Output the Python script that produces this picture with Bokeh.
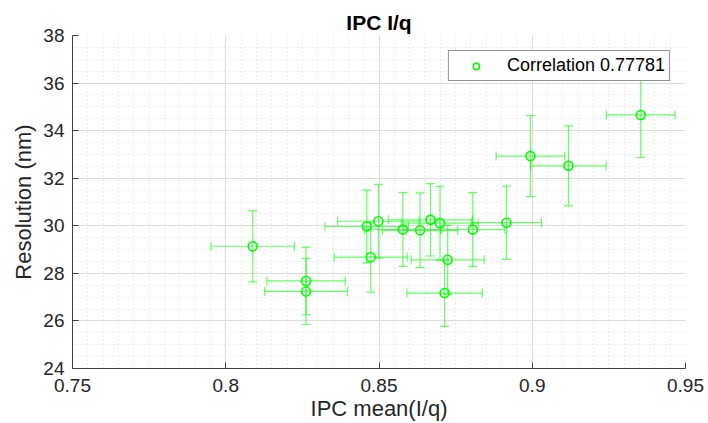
import numpy as np
from bokeh.plotting import figure
from bokeh.models import (ColumnDataSource, Whisker, TeeHead, FixedTicker, Range1d)
from bokeh.embed import file_html
from bokeh.resources import INLINE

# ---- data ----
ipc_mean = [0.8088, 0.8262, 0.8262, 0.8460, 0.8498, 0.8473, 0.8578, 0.8634, 0.8668,
            0.8699, 0.8724, 0.8714, 0.8806, 0.8916, 0.8994, 0.9118, 0.9354]
resolution = [29.14, 27.68, 27.24, 29.97, 30.19, 28.68, 29.84, 29.81, 30.25,
              30.11, 28.57, 27.17, 29.84, 30.13, 32.93, 32.52, 34.66]
ipc_err = [0.0136, 0.0128, 0.0135, 0.0136, 0.0133, 0.0119, 0.0125, 0.0123, 0.0138,
           0.0125, 0.0119, 0.0123, 0.0105, 0.0114, 0.0112, 0.0123, 0.0112]
res_err = [1.50, 1.42, 1.39, 1.53, 1.55, 1.47, 1.55, 1.57, 1.52,
           1.55, 1.45, 1.40, 1.55, 1.54, 1.70, 1.68, 1.79]

x_ticks = [0.75, 0.8, 0.85, 0.9, 0.95]
x_tick_labels = ["0.75", "0.8", "0.85", "0.9", "0.95"]
y_ticks = [24, 26, 28, 30, 32, 34, 36, 38]
y_tick_labels = ["24", "26", "28", "30", "32", "34", "36", "38"]
legend_text = "Correlation 0.77781"
title_text = "IPC I/q"
x_label = "IPC mean(I/q)"
y_label = "Resolution (nm)"

GREEN = "#00ff00"
TXT = "#262626"
FONT = "Liberation Sans"

x = np.array(ipc_mean)
y = np.array(resolution)
xe = np.array(ipc_err)
ye = np.array(res_err)

src = ColumnDataSource(dict(x=x, y=y,
                            xl=x - xe, xu=x + xe,
                            yl=y - ye, yu=y + ye))

p = figure(width=708, height=423, output_backend="svg", toolbar_location=None,
           x_range=Range1d(0.75, 0.95), y_range=Range1d(24, 38),
           min_border_left=72, min_border_right=23, min_border_top=35,
           min_border_bottom=54)
p.outline_line_color = None
p.background_fill_color = "white"
p.border_fill_color = "white"

p.title.text = title_text
p.title.align = "center"
p.title.text_font = FONT
p.title.text_font_size = "21px"
p.title.text_font_style = "bold"
p.title.text_color = "black"
p.title.standoff = 4

# ticks
p.xaxis.ticker = FixedTicker(ticks=x_ticks,
                             minor_ticks=list(np.round(np.arange(0.75, 0.9501, 0.005), 4)))
p.yaxis.ticker = FixedTicker(ticks=y_ticks,
                             minor_ticks=list(np.arange(24, 38.01, 0.5)))
p.xaxis.major_label_overrides = {t: l for t, l in zip(x_ticks, x_tick_labels)}
p.yaxis.major_label_overrides = {t: l for t, l in zip(y_ticks, y_tick_labels)}

for ax in (p.xaxis[0], p.yaxis[0]):
    ax.axis_line_color = "#404040"
    ax.axis_line_width = 1
    ax.major_tick_line_color = "#404040"
    ax.major_tick_in = 6
    ax.major_tick_out = 0
    ax.minor_tick_in = 0
    ax.minor_tick_out = 0
    ax.major_label_text_font = FONT
    ax.major_label_text_font_size = "19px"
    ax.major_label_text_color = TXT
    ax.axis_label_text_font = FONT
    ax.axis_label_text_font_size = "22px"
    ax.axis_label_text_font_style = "normal"
    ax.axis_label_text_color = TXT

p.xaxis.axis_label = x_label
p.yaxis.axis_label = y_label
p.xaxis.major_label_standoff = 10
p.yaxis.major_label_standoff = 8
p.xaxis.axis_label_standoff = 1
p.yaxis.axis_label_standoff = 4

# grids
for g in (p.xgrid[0], p.ygrid[0]):
    g.grid_line_color = "#dcdcdc"
    g.grid_line_width = 1
    g.minor_grid_line_color = "#dadada"
    g.minor_grid_line_dash = "1 3"
    g.minor_grid_line_width = 1

# error bars
ERR_ALPHA = 0.6
wy = Whisker(source=src, base="x", lower="yl", upper="yu", dimension="height",
             line_color=GREEN, line_alpha=ERR_ALPHA, line_width=1.2, level="glyph",
             upper_head=TeeHead(size=9, line_color=GREEN, line_alpha=ERR_ALPHA, line_width=1.2),
             lower_head=TeeHead(size=9, line_color=GREEN, line_alpha=ERR_ALPHA, line_width=1.2))
wx = Whisker(source=src, base="y", lower="xl", upper="xu", dimension="width",
             line_color=GREEN, line_alpha=ERR_ALPHA, line_width=1.2, level="glyph",
             upper_head=TeeHead(size=9, line_color=GREEN, line_alpha=ERR_ALPHA, line_width=1.2),
             lower_head=TeeHead(size=9, line_color=GREEN, line_alpha=ERR_ALPHA, line_width=1.2))
p.add_layout(wy)
p.add_layout(wx)

p.scatter(x="x", y="y", source=src, marker="circle", size=9,
          line_color=GREEN, fill_color=None, line_width=1.6,
          legend_label=legend_text)

lg = p.legend[0]
lg.location = "top_right"
lg.margin = 15
lg.padding = 4
lg.spacing = 0
lg.glyph_width = 46
lg.glyph_height = 16
lg.label_height = 16
lg.label_standoff = 8
lg.label_text_font = FONT
lg.label_text_font_size = "18px"
lg.label_text_color = "black"
lg.label_text_baseline = "middle"
lg.border_line_color = "#262626"
lg.border_line_width = 1
lg.background_fill_color = "white"
lg.background_fill_alpha = 1.0

open("out.html", "w").write(file_html(p, INLINE))
